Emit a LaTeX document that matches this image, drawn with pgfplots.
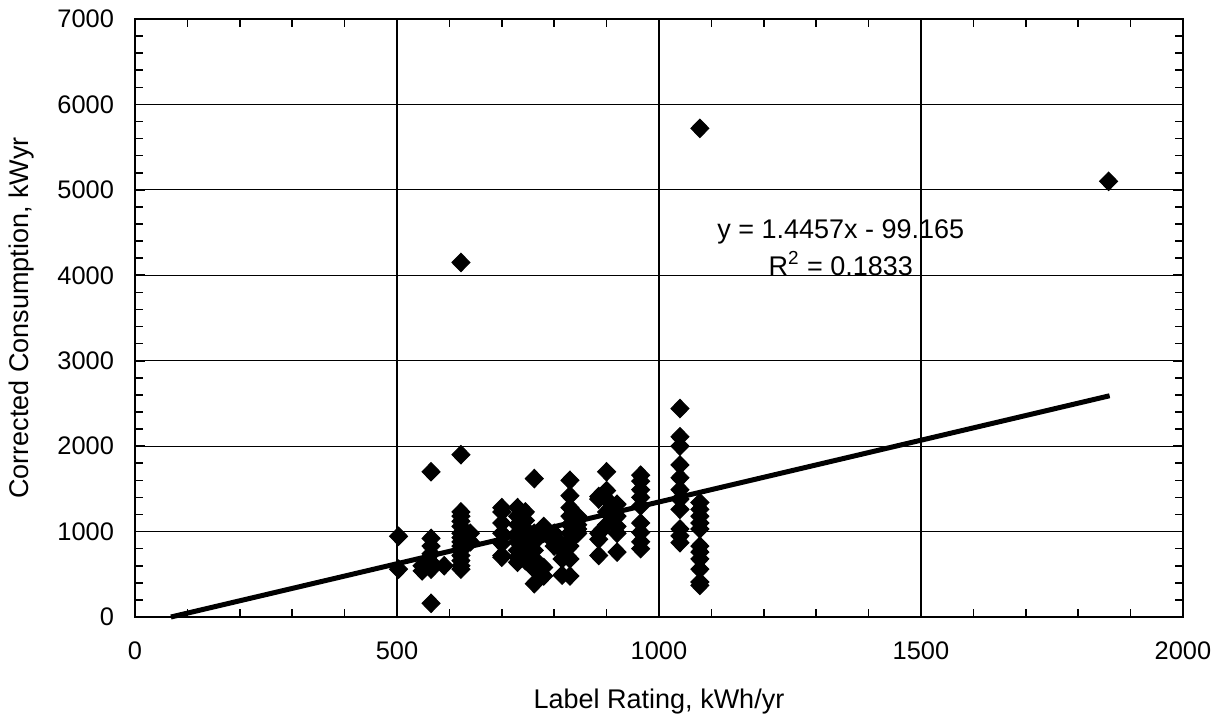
\documentclass[border=0pt]{standalone}
\usepackage{fontspec}
\setmainfont{Liberation Sans}
\usepackage{pgfplots}
\pgfplotsset{compat=1.18}
\begin{document}
\begin{tikzpicture}[font=\fontsize{12.7pt}{15pt}\selectfont]
\begin{axis}[
  scale only axis, width=524pt, height=299pt,
  at={(0,0)}, anchor=south west,
  xmin=0, xmax=2000, ymin=0, ymax=7000,
  xtick={0,500,1000,1500,2000}, ytick={0,1000,2000,3000,4000,5000,6000,7000},
  minor x tick num=4, minor y tick num=4,
  grid=major, major grid style={black, line width=0.6pt},
  axis line style={black, line width=1pt},
  tick style={black, line width=0.8pt},
  tick align=inside, major tick length=5pt, minor tick length=4pt,
  xticklabel style={yshift=-9pt}, yticklabel style={xshift=-7pt},
  /pgf/number format/assume math mode=true,
  /pgf/number format/1000 sep={},
  xlabel={Label Rating, kWh/yr},
  ylabel={Corrected Consumption, kWyr},
  xlabel style={at={(axis description cs:0.5,-0.1405)}, anchor=center, font=\fontsize{13.5pt}{15pt}\selectfont},
  ylabel style={at={(axis description cs:-0.108,0.5)}, anchor=center, font=\fontsize{13.5pt}{15pt}\selectfont},
  clip=false,
]
\addplot[only marks, mark=diamond*, mark size=4.6pt, mark options={xscale=1.3, fill=black, draw=black, line width=0.5pt}] coordinates {
(503,945) (503,560)
(548,540) (548,600)
(565,1700) (565,920) (565,830) (565,740) (565,640) (565,560) (565,160)
(590,600)
(622,4150) (622,1900) (622,1230) (622,1180) (622,1120) (622,1060) (622,980) (622,930) (622,880) (622,830) (622,780) (622,720) (622,660) (622,600) (622,560)
(640,980) (640,880)
(700,1280) (700,1230) (700,1100) (700,980) (700,860) (700,720) (700,700)
(730,1280) (730,1180) (730,1080) (730,980) (730,880) (730,780) (730,700) (730,640)
(745,1230) (745,1130) (745,1030) (745,930) (745,830) (745,740) (745,660)
(762,1620) (762,980) (762,880) (762,780) (762,680) (762,560) (762,390)
(780,1060) (780,980) (780,580) (780,480)
(800,980) (800,940) (800,880) (800,830)
(815,780) (815,680) (815,490)
(830,1600) (830,1420) (830,1280) (830,1180) (830,1080) (830,980) (830,900) (830,830) (830,680) (830,480)
(845,1180) (845,1080) (845,1030) (845,980)
(885,1410) (885,1380) (885,980) (885,910) (885,720)
(900,1700) (900,1480) (900,1380) (900,1230) (900,1080)
(920,1320) (920,1180) (920,1060) (920,980) (920,760)
(965,1660) (965,1590) (965,1490) (965,1400) (965,1300) (965,1100) (965,990) (965,880) (965,800)
(1040,2440) (1040,2110) (1040,2000) (1040,1780) (1040,1630) (1040,1490) (1040,1380) (1040,1260) (1040,1030) (1040,950) (1040,870)
(1078,5720) (1078,1340) (1078,1260) (1078,1180) (1078,1100) (1078,1030) (1078,830) (1078,760) (1078,680) (1078,560) (1078,410) (1078,370)
(1858,5100)
};
\addplot[black, line width=2.5pt, no marks] coordinates {(68.6,0) (1860,2589.8)};
\node[anchor=base, font=\fontsize{13.5pt}{15pt}\selectfont] at (axis cs:1347,4433) {y = 1.4457x - 99.165};
\node[anchor=base, font=\fontsize{13.5pt}{15pt}\selectfont] at (axis cs:1347,4000) {R\textsuperscript{2} = 0.1833};
\end{axis}
\pgfresetboundingbox
\path[use as bounding box] (-67.5pt,-50.5pt) rectangle (541pt,308.5pt);
\end{tikzpicture}
\end{document}
